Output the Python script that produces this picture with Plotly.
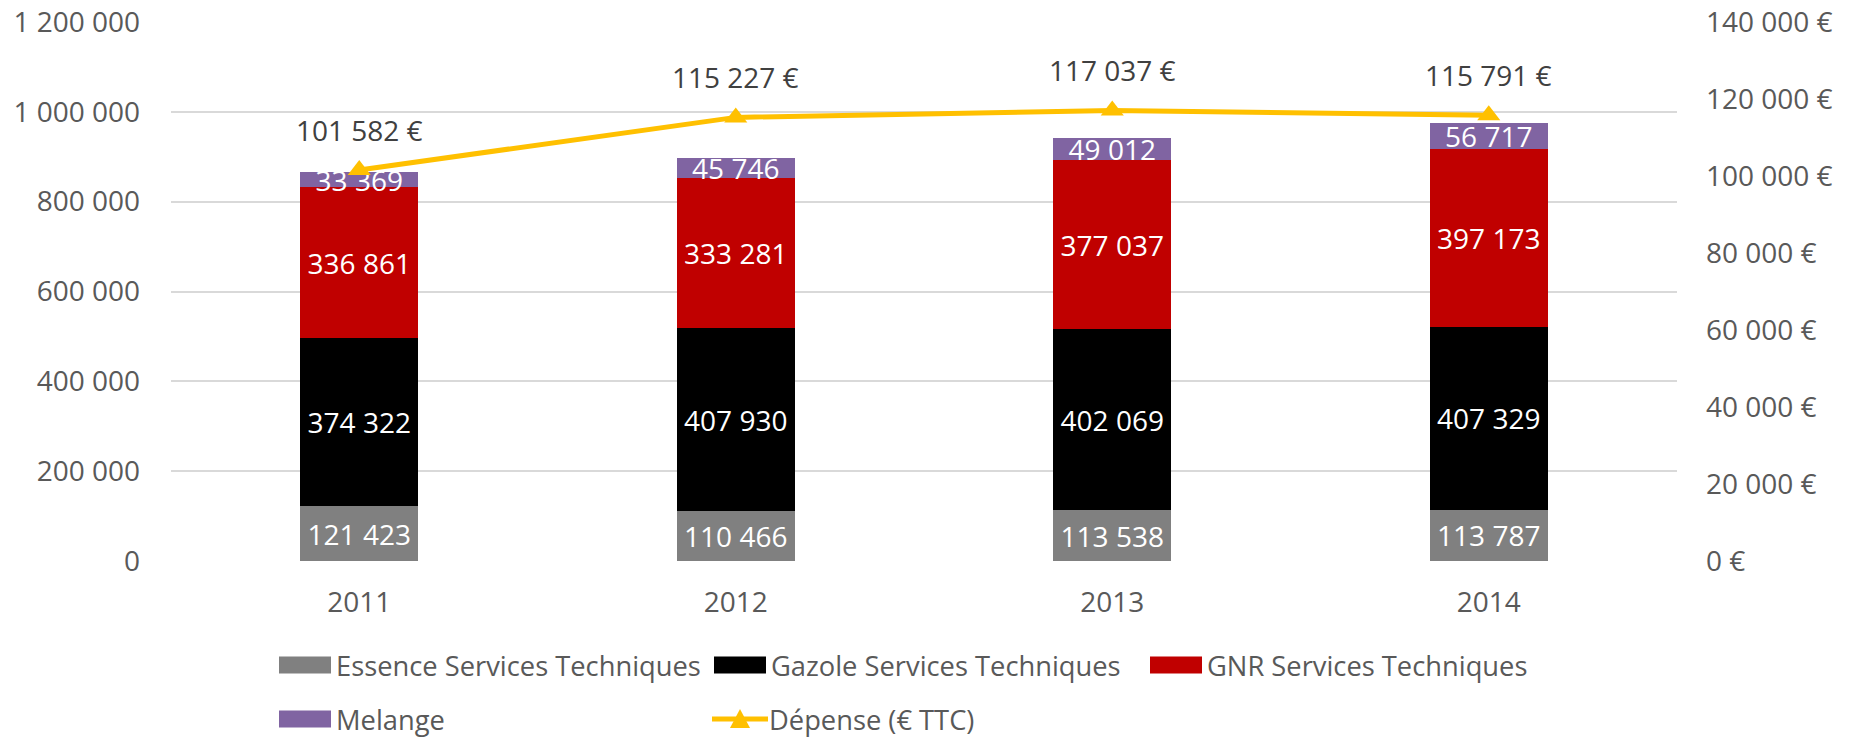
import plotly.graph_objects as go

years = ["2011", "2012", "2013", "2014"]
essence = [121423, 110466, 113538, 113787]
gazole = [374322, 407930, 402069, 407329]
gnr = [336861, 333281, 377037, 397173]
melange = [33369, 45746, 49012, 56717]
depense = [101582, 115227, 117037, 115791]

series_names = ["Essence Services Techniques", "Gazole Services Techniques",
                "GNR Services Techniques", "Melange"]
series_colors = ["#808080", "#000000", "#C00000", "#8064A2"]
line_name = "Dépense (€ TTC)"
line_color = "#FFC000"

FONT = "Open Sans"
TXT = "#595959"
FS = 28
W, H = 1849, 737
ML, MR, MT, MB = 171, 172, 22, 176
PW = W - ML - MR
PH = H - MT - MB

fig = go.Figure()
for name, vals, col in zip(series_names, [essence, gazole, gnr, melange], series_colors):
    fig.add_trace(go.Bar(
        x=years, y=vals, name=name, marker=dict(color=col, line=dict(width=0)),
        texttemplate="%{y:,d}", textposition="inside", insidetextanchor="middle",
        textangle=0, constraintext="none",
        insidetextfont=dict(family=FONT, size=FS, color="#FFFFFF"),
        showlegend=False, hoverinfo="skip"))

fig.add_trace(go.Scatter(
    x=years, y=depense, name=line_name, yaxis="y2", mode="lines+markers",
    line=dict(color=line_color, width=5),
    marker=dict(symbol="triangle-up", size=20, color=line_color),
    cliponaxis=False, showlegend=False, hoverinfo="skip"))

# line value labels (category axis: annotation x is the category index)
for i, v in enumerate(depense):
    fig.add_annotation(x=i, y=v, xref="x", yref="y2",
                       text="{:,}".format(v).replace(",", " ") + " €",
                       showarrow=False, yshift=40, yanchor="middle",
                       font=dict(family=FONT, size=FS, color="#404040"))

fig.update_layout(
    width=W, height=H, barmode="stack", bargap=0.687,
    separators=", ",
    margin=dict(l=ML, r=MR, t=MT, b=MB, pad=0, autoexpand=False),
    plot_bgcolor="#FFFFFF", paper_bgcolor="#FFFFFF",
    font=dict(family=FONT, size=FS, color=TXT),
    xaxis=dict(type="category", categoryorder="array", categoryarray=years,
               range=[-0.5, len(years) - 0.5],
               showgrid=False, showline=False, ticks="", ticklabelstandoff=22,
               automargin=False, tickfont=dict(family=FONT, size=FS, color=TXT)),
    yaxis=dict(range=[0, 1200000], dtick=200000, tickformat=",d",
               showgrid=True, gridcolor="#D9D9D9", gridwidth=1.5,
               zeroline=False, showline=False, ticks="", ticklabelstandoff=30,
               automargin=False, tickfont=dict(family=FONT, size=FS, color=TXT)),
    yaxis2=dict(range=[0, 140000], dtick=20000, tickformat=",d", ticksuffix=" €",
                overlaying="y", side="right", showgrid=False, zeroline=False,
                showline=False, ticks="", ticklabelstandoff=28, automargin=False,
                tickfont=dict(family=FONT, size=FS, color=TXT)),
    showlegend=False,
)

# custom legend (pixel positions converted to paper coordinates)
def px_x(p):
    return (p - ML) / PW

def px_y(p):
    return (H - MB - p) / PH

LFS = 27.3
legend_items = [
    (series_names[0], series_colors[0], 279, 665, "bar"),
    (series_names[1], series_colors[1], 714, 665, "bar"),
    (series_names[2], series_colors[2], 1150, 665, "bar"),
    (series_names[3], series_colors[3], 279, 719, "bar"),
    (line_name, line_color, 712, 719, "line"),
]
for name, col, x0, yc, kind in legend_items:
    if kind == "bar":
        fig.add_shape(type="rect", xref="paper", yref="paper",
                      x0=px_x(x0), x1=px_x(x0 + 52), y0=px_y(yc + 8.5), y1=px_y(yc - 8.5),
                      fillcolor=col, line=dict(width=0))
    else:
        fig.add_shape(type="line", xref="paper", yref="paper",
                      x0=px_x(x0), x1=px_x(x0 + 56), y0=px_y(yc), y1=px_y(yc),
                      line=dict(color=col, width=5))
        cx = x0 + 28
        fig.add_shape(type="path", xref="paper", yref="paper",
                      path="M {} {} L {} {} L {} {} Z".format(
                          px_x(cx - 10), px_y(yc + 9), px_x(cx + 10), px_y(yc + 9),
                          px_x(cx), px_y(yc - 10)),
                      fillcolor=col, line=dict(width=0))
    fig.add_annotation(text=name, xref="paper", yref="paper",
                       x=px_x(x0 + 55), y=px_y(yc), xanchor="left", yanchor="middle",
                       showarrow=False, font=dict(family=FONT, size=LFS, color=TXT))

fig.write_html("out.html", config={"displayModeBar": False},
               post_script="document.body.style.margin='0';document.body.style.overflow='hidden';")
